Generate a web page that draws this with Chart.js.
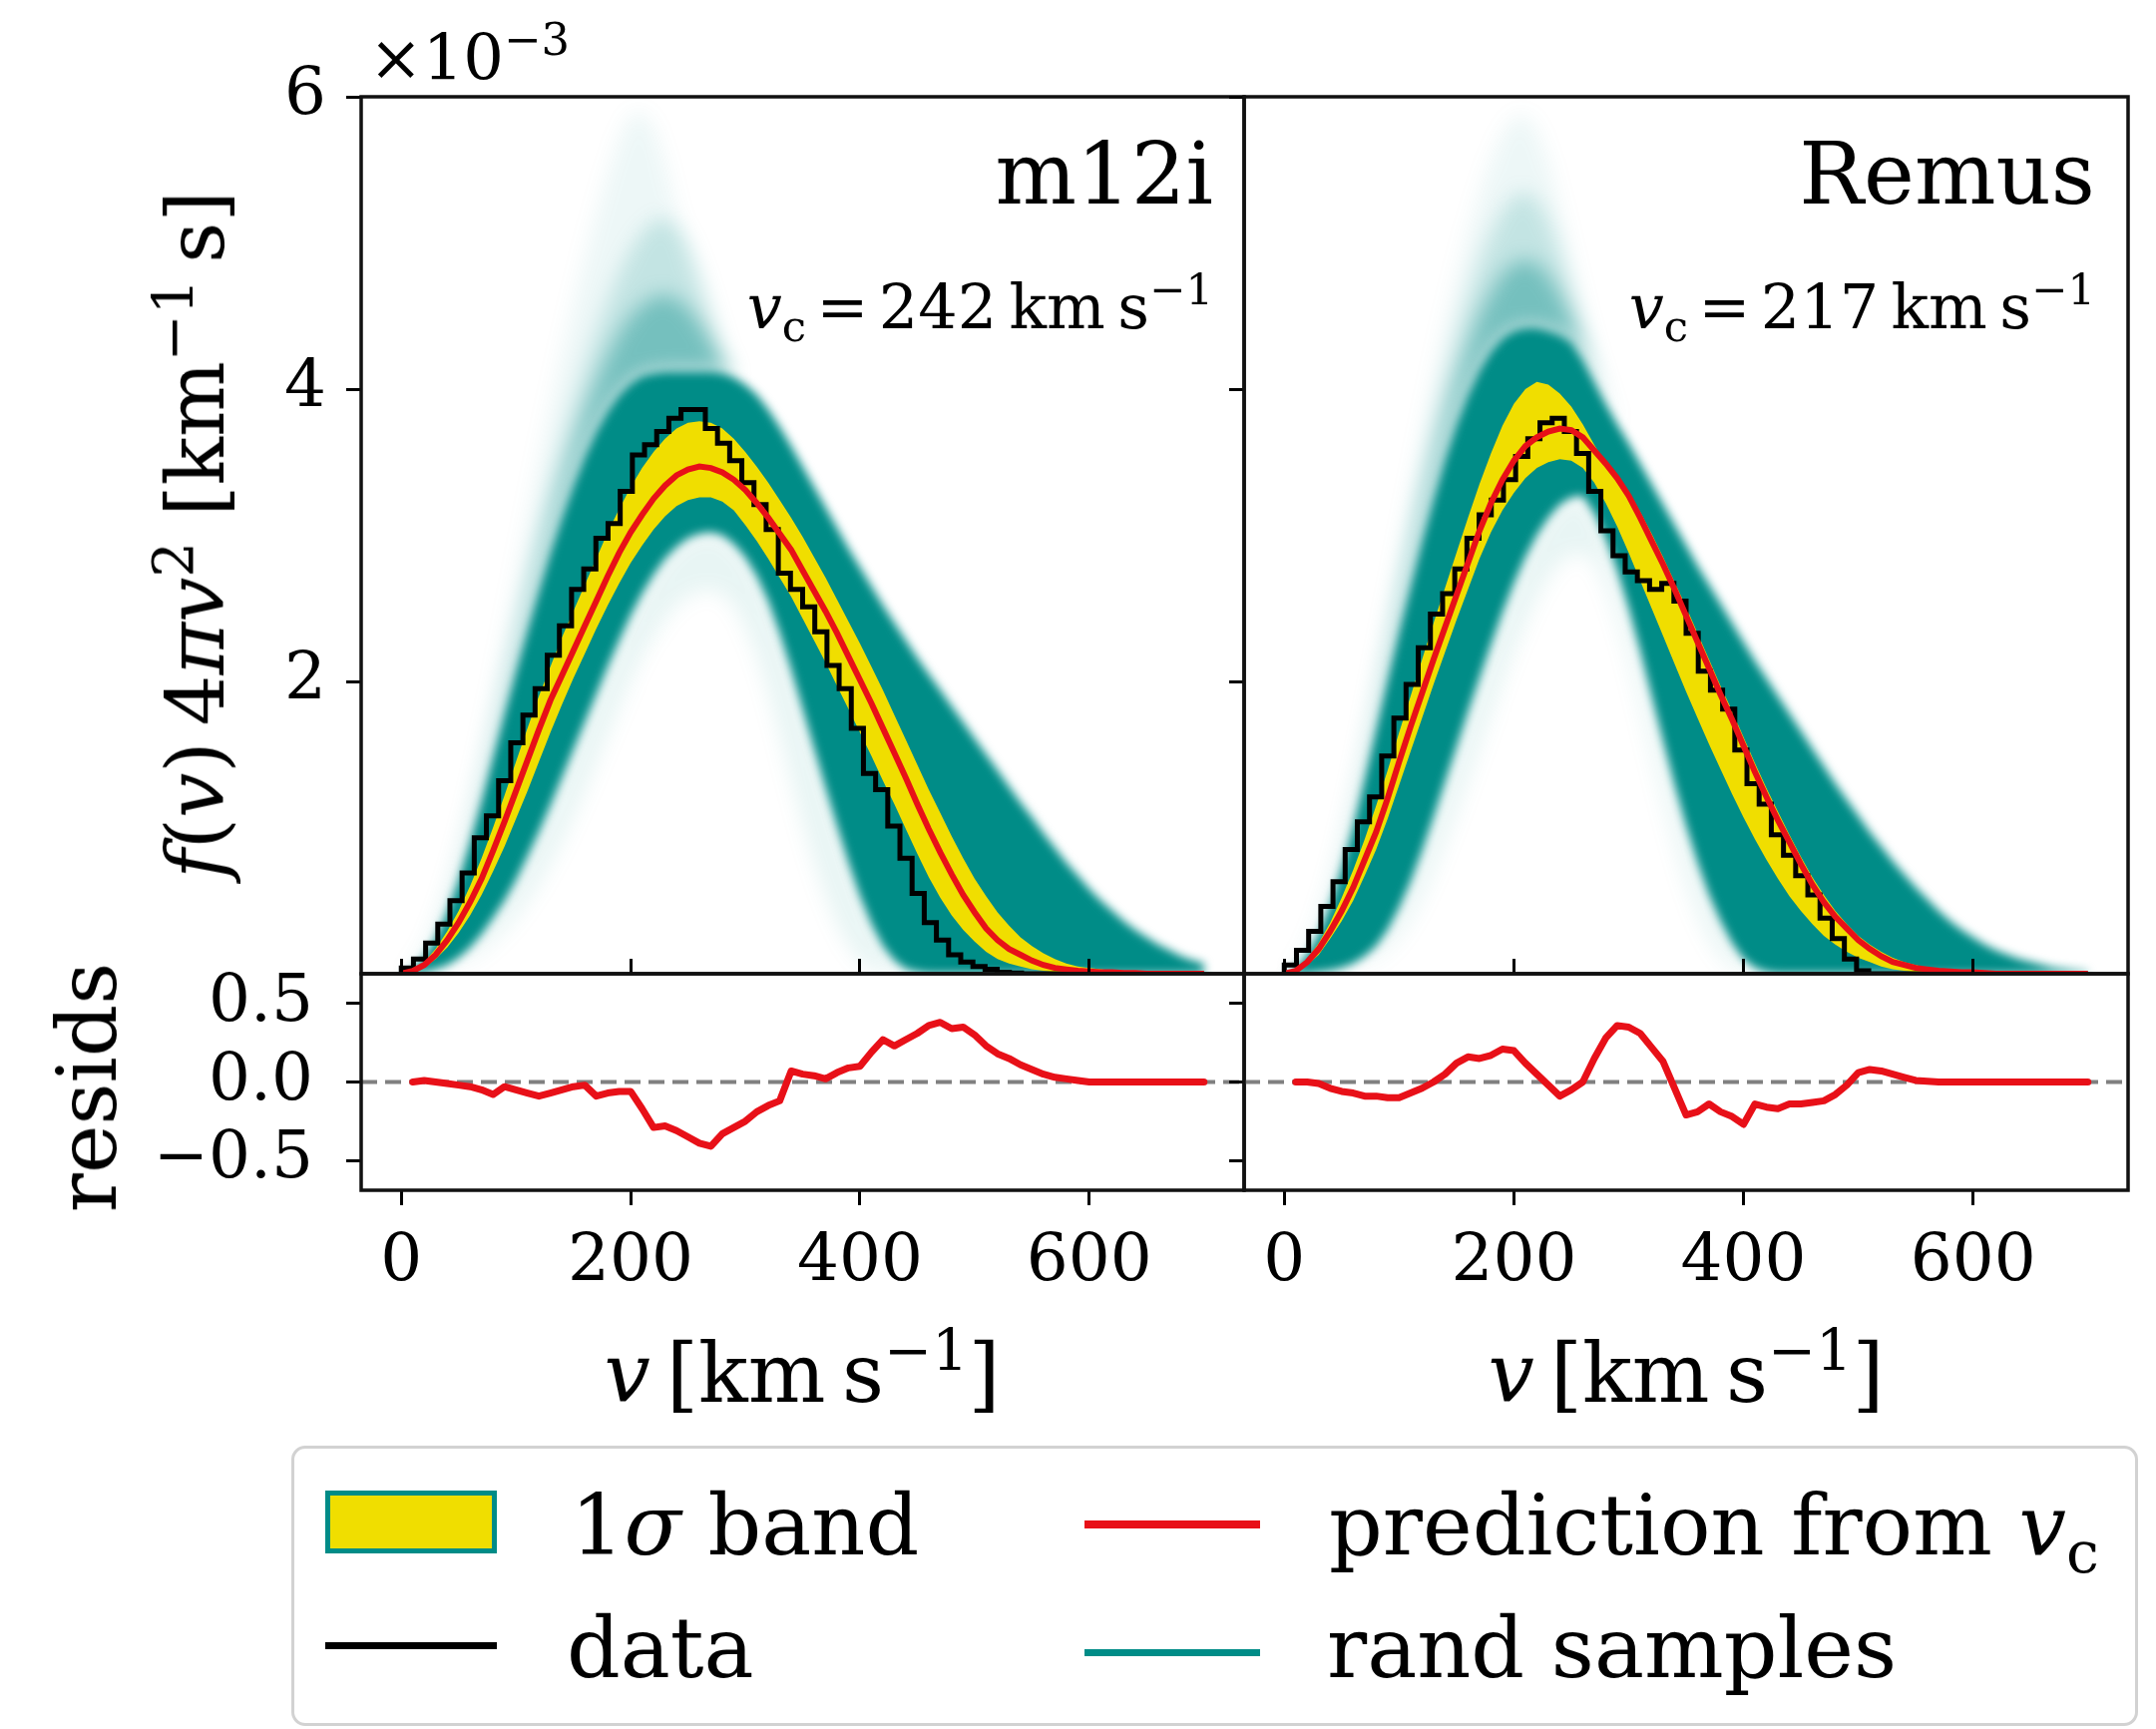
<!DOCTYPE html>
<html>
<head>
<meta charset="utf-8">
<script src="https://cdn.jsdelivr.net/npm/chart.js@4.4.1/dist/chart.umd.min.js"></script>
<style>
  body { margin: 0; background: #fff; }
  #fig { position: relative; width: 2161px; height: 1733px; overflow: hidden; font-family: "DejaVu Serif", serif; color: #000; }
  canvas { position: absolute; left: 0; top: 0; }
  .clip { position: absolute; overflow: hidden; }
  .soft canvas { filter: blur(10px); }
  .dense canvas { filter: blur(5px); }
  .txt { position: absolute; line-height: 1; white-space: nowrap; }
  .sup { font-size: 0.7em; position: relative; top: -0.55em; }
  .sub { font-size: 0.7em; position: relative; top: 0.3em; }
  .rot { transform: translate(-50%, -50%) rotate(-90deg); }
  .ctr { transform: translateX(-50%); }
  #legend { position: absolute; left: 292px; top: 1449px; width: 1851px; height: 281px; box-sizing: border-box;
            border: 3px solid #d2d2d2; border-radius: 14px; background: #fff; }
  .handle { position: absolute; box-sizing: border-box; }
</style>
</head>
<body>
<div id="fig">
  <div class="clip soft" style="left:362px; top:97px; width:885px; height:879px;">
    <canvas id="haloLeft" width="2161" height="1733" style="left:-362px; top:-97px;"></canvas>
  </div>
  <div class="clip soft" style="left:1247px; top:97px; width:886px; height:879px;">
    <canvas id="haloRight" width="2161" height="1733" style="left:-1247px; top:-97px;"></canvas>
  </div>
  <div class="clip dense" style="left:362px; top:97px; width:885px; height:879px;">
    <canvas id="sampLeft" width="2161" height="1733" style="left:-362px; top:-97px;"></canvas>
  </div>
  <div class="clip dense" style="left:1247px; top:97px; width:886px; height:879px;">
    <canvas id="sampRight" width="2161" height="1733" style="left:-1247px; top:-97px;"></canvas>
  </div>
  <canvas id="mainLeft" width="2161" height="1733"></canvas>
  <canvas id="mainRight" width="2161" height="1733"></canvas>
  <canvas id="residLeft" width="2161" height="1733"></canvas>
  <canvas id="residRight" width="2161" height="1733"></canvas>

  <div class="txt" style="left:370px; top:26px; font-size:64px;">×10<span class="sup">−3</span></div>
  <div class="txt" style="right:945px; top:131px; font-size:86px;">m12i</div>
  <div class="txt" style="right:61px; top:131px; font-size:86px;">Remus</div>
  <div class="txt" style="right:945px; top:277px; font-size:62px;"><i>v</i><span class="sub">c</span>&#8198;=&#8198;242&#8201;km&#8201;s<span class="sup">−1</span></div>
  <div class="txt" style="right:61px; top:277px; font-size:62px;"><i>v</i><span class="sub">c</span>&#8198;=&#8198;217&#8201;km&#8201;s<span class="sup">−1</span></div>

  <div class="txt ctr" style="left:804px; top:1336px; font-size:82px;"><i>v</i>&#8201;[km&#8201;s<span class="sup">−1</span>]</div>
  <div class="txt ctr" style="left:1690px; top:1336px; font-size:82px;"><i>v</i>&#8201;[km&#8201;s<span class="sup">−1</span>]</div>
  <div class="txt rot" style="left:88px; top:1090px; font-size:82px;">resids</div>
  <div class="txt rot" style="left:197px; top:536px; font-size:80px;"><i>f</i>(<i>v</i>)&#8201;4<i>πv</i><span class="sup">2</span> [km<span class="sup">−1</span>&#8201;s]</div>

  <div id="legend"></div>
  <div class="handle" style="left:326px; top:1494px; width:172px; height:63px; background:rgb(240,222,0); border:5px solid rgb(0,140,135);"></div>
  <div class="txt" style="left:572px; top:1487px; font-size:84px;">1<i>σ</i> band</div>
  <div class="handle" style="left:1087px; top:1524px; width:176px; height:8px; background:rgb(232,16,24);"></div>
  <div class="txt" style="left:1332px; top:1487px; font-size:84px;">prediction from <i>v</i><span class="sub">c</span></div>
  <div class="handle" style="left:326px; top:1646px; width:172px; height:7px; background:#000;"></div>
  <div class="txt" style="left:568px; top:1610px; font-size:84px;">data</div>
  <div class="handle" style="left:1087px; top:1653px; width:176px; height:7px; background:rgb(0,140,135);"></div>
  <div class="txt" style="left:1330px; top:1610px; font-size:84px;">rand samples</div>
</div>

<script>
// speed grid (km/s) for the smooth curves
const vGrid = [0, 10, 20, 30, 40, 50, 60, 70, 80, 90, 100, 110, 120, 130, 140, 150, 160, 170, 180, 190,
  200, 210, 220, 230, 240, 250, 260, 270, 280, 290, 300, 310, 320, 330, 340, 350, 360, 370, 380, 390,
  400, 410, 420, 430, 440, 450, 460, 470, 480, 490, 500, 510, 520, 530, 540, 550, 560, 570, 580, 590,
  600, 610, 620, 630, 640, 650, 660, 670, 680, 690, 700];
const residGrid = vGrid.slice(1);

const xTicks = [0, 200, 400, 600];
const yTicks = [2, 4, 6];
const residTicks = [-0.5, 0, 0.5];

// ---- m12i (units of 1e-3 km^-1 s) ----
const m12iPred = [0.00, 0.02, 0.06, 0.13, 0.23, 0.35, 0.49, 0.65, 0.84, 1.04,
  1.25, 1.46, 1.67, 1.87, 2.04, 2.21, 2.38, 2.55, 2.72, 2.88,
  3.02, 3.14, 3.25, 3.34, 3.41, 3.45, 3.47, 3.46, 3.43, 3.38,
  3.31, 3.22, 3.12, 3.01, 2.90, 2.76, 2.62, 2.48, 2.33, 2.17,
  2.01, 1.85, 1.68, 1.51, 1.34, 1.16, 0.99, 0.83, 0.68, 0.54,
  0.42, 0.31, 0.23, 0.17, 0.13, 0.09, 0.06, 0.04, 0.03, 0.02,
  0.015, 0.01, 0.01, 0.005, 0.005, 0, 0, 0, 0, 0, 0];
const m12iBandHi = [0.00, 0.03, 0.08, 0.17, 0.29, 0.43, 0.60, 0.79, 1.00, 1.22,
  1.45, 1.68, 1.90, 2.10, 2.30, 2.48, 2.66, 2.84, 3.02, 3.18,
  3.33, 3.46, 3.57, 3.66, 3.73, 3.77, 3.78, 3.77, 3.73, 3.66,
  3.57, 3.47, 3.36, 3.24, 3.12, 2.99, 2.85, 2.71, 2.56, 2.41,
  2.26, 2.10, 1.94, 1.77, 1.60, 1.43, 1.26, 1.10, 0.94, 0.79,
  0.65, 0.53, 0.42, 0.33, 0.25, 0.19, 0.14, 0.10, 0.07, 0.05,
  0.04, 0.03, 0.02, 0.01, 0.01, 0.005, 0, 0, 0, 0, 0];
const m12iBandLo = [0.00, 0.01, 0.04, 0.10, 0.18, 0.28, 0.40, 0.54, 0.70, 0.87,
  1.06, 1.25, 1.45, 1.65, 1.84, 2.02, 2.19, 2.36, 2.52, 2.67,
  2.81, 2.93, 3.04, 3.13, 3.20, 3.24, 3.26, 3.26, 3.23, 3.17,
  3.07, 2.96, 2.84, 2.71, 2.58, 2.43, 2.28, 2.13, 1.97, 1.81,
  1.65, 1.49, 1.32, 1.16, 0.99, 0.82, 0.66, 0.52, 0.40, 0.30,
  0.22, 0.15, 0.10, 0.07, 0.05, 0.03, 0.02, 0.01, 0.005, 0,
  0, 0, 0, 0, 0, 0, 0, 0, 0, 0, 0];
const m12iSampHi = [0.00, 0.03, 0.11, 0.24, 0.42, 0.64, 0.90, 1.18, 1.48, 1.78,
  2.07, 2.35, 2.62, 2.88, 3.12, 3.34, 3.54, 3.71, 3.85, 3.96,
  4.04, 4.09, 4.11, 4.12, 4.12, 4.12, 4.12, 4.12, 4.11, 4.08,
  4.03, 3.96, 3.86, 3.74, 3.61, 3.47, 3.33, 3.19, 3.05, 2.91,
  2.78, 2.65, 2.52, 2.40, 2.28, 2.16, 2.05, 1.94, 1.83, 1.72,
  1.61, 1.50, 1.39, 1.28, 1.17, 1.07, 0.96, 0.86, 0.76, 0.67,
  0.58, 0.50, 0.43, 0.36, 0.30, 0.25, 0.20, 0.16, 0.12, 0.09, 0.07];
const m12iSampLo = [0.00, 0.00, 0.01, 0.03, 0.06, 0.11, 0.18, 0.27, 0.38, 0.50,
  0.64, 0.80, 0.97, 1.15, 1.34, 1.53, 1.72, 1.91, 2.10, 2.28,
  2.45, 2.60, 2.73, 2.84, 2.92, 2.98, 3.01, 3.02, 3.00, 2.94,
  2.85, 2.72, 2.55, 2.33, 2.08, 1.81, 1.54, 1.27, 1.01, 0.76,
  0.53, 0.34, 0.19, 0.09, 0.03, 0.01, 0, 0, 0, 0,
  0, 0, 0, 0, 0, 0, 0, 0, 0, 0,
  0, 0, 0, 0, 0, 0, 0, 0, 0, 0, 0];
// faint tails of the sample curves: above the dense band and inside its hollow
const m12iHaloMid = [0.00, 0.035, 0.12, 0.26, 0.45, 0.68, 0.95, 1.25, 1.56, 1.88,
  2.20, 2.51, 2.81, 3.10, 3.37, 3.62, 3.85, 4.05, 4.23, 4.38,
  4.50, 4.58, 4.63, 4.65, 4.62, 4.56, 4.46, 4.34, 4.20, 4.08,
  4.03, 3.96, 3.86, 3.74, 3.61, 3.47, 3.33, 3.19, 3.05, 2.91,
  2.78, 2.65, 2.52, 2.40, 2.28, 2.16, 2.05, 1.94, 1.83, 1.72,
  1.61, 1.50, 1.39, 1.28, 1.17, 1.07, 0.96, 0.86, 0.76, 0.67,
  0.58, 0.50, 0.43, 0.36, 0.30, 0.25, 0.20, 0.16, 0.12, 0.09, 0.07];
const m12iHaloA = [0.00, 0.04, 0.13, 0.28, 0.48, 0.72, 1.00, 1.31, 1.64, 1.98,
  2.32, 2.66, 2.99, 3.31, 3.61, 3.89, 4.15, 4.39, 4.60, 4.79,
  4.95, 5.07, 5.15, 5.17, 5.12, 5.00, 4.80, 4.55, 4.28, 4.08,
  4.03, 3.96, 3.86, 3.74, 3.61, 3.47, 3.33, 3.19, 3.05, 2.91,
  2.78, 2.65, 2.52, 2.40, 2.28, 2.16, 2.05, 1.94, 1.83, 1.72,
  1.61, 1.50, 1.39, 1.28, 1.17, 1.07, 0.96, 0.86, 0.76, 0.67,
  0.58, 0.50, 0.43, 0.36, 0.30, 0.25, 0.20, 0.16, 0.12, 0.09, 0.07];
const m12iHaloB = [0.00, 0.05, 0.16, 0.33, 0.56, 0.84, 1.16, 1.52, 1.90, 2.30,
  2.70, 3.10, 3.50, 3.88, 4.24, 4.58, 4.90, 5.20, 5.48, 5.72,
  5.88, 5.90, 5.80, 5.55, 5.22, 4.85, 4.50, 4.25, 4.11, 4.08,
  4.03, 3.96, 3.86, 3.74, 3.61, 3.47, 3.33, 3.19, 3.05, 2.91,
  2.78, 2.65, 2.52, 2.40, 2.28, 2.16, 2.05, 1.94, 1.83, 1.72,
  1.61, 1.50, 1.39, 1.28, 1.17, 1.07, 0.96, 0.86, 0.76, 0.67,
  0.58, 0.50, 0.43, 0.36, 0.30, 0.25, 0.20, 0.16, 0.12, 0.09, 0.07];
const m12iHole = [0.00, 0.00, 0.005, 0.015, 0.03, 0.06, 0.10, 0.15, 0.22, 0.30,
  0.39, 0.50, 0.62, 0.76, 0.91, 1.08, 1.26, 1.45, 1.64, 1.83,
  2.01, 2.17, 2.31, 2.43, 2.52, 2.58, 2.62, 2.63, 2.60, 2.52,
  2.38, 2.18, 1.93, 1.64, 1.33, 1.03, 0.76, 0.53, 0.34, 0.19,
  0.09, 0.03, 0.01, 0, 0, 0, 0, 0, 0, 0,
  0, 0, 0, 0, 0, 0, 0, 0, 0, 0,
  0, 0, 0, 0, 0, 0, 0, 0, 0, 0, 0];
// histogram of the simulated speeds, 66 bins over 0-700 km/s
const m12iData = [0.01, 0.04, 0.10, 0.21, 0.34, 0.50, 0.69, 0.93, 1.08, 1.32,
  1.58, 1.77, 1.95, 2.18, 2.38, 2.63, 2.77, 2.98, 3.08, 3.30,
  3.55, 3.62, 3.71, 3.80, 3.86, 3.86, 3.73, 3.63, 3.51, 3.36,
  3.21, 3.04, 2.74, 2.63, 2.51, 2.34, 2.11, 1.95, 1.68, 1.37,
  1.26, 1.01, 0.79, 0.55, 0.35, 0.23, 0.13, 0.08, 0.05, 0.03,
  0.01, 0.005, 0, 0, 0, 0, 0, 0, 0, 0, 0, 0, 0, 0, 0, 0];
const m12iResid = [0.00, 0.01, 0.00, -0.01, -0.02, -0.03, -0.05, -0.08, -0.03, -0.05,
  -0.07, -0.09, -0.07, -0.05, -0.03, -0.02, -0.09, -0.07, -0.06, -0.06,
  -0.17, -0.29, -0.28, -0.31, -0.35, -0.39, -0.41, -0.33, -0.29, -0.25,
  -0.19, -0.15, -0.12, 0.07, 0.05, 0.04, 0.02, 0.06, 0.09, 0.10,
  0.19, 0.27, 0.23, 0.27, 0.31, 0.36, 0.38, 0.34, 0.35, 0.30,
  0.23, 0.18, 0.15, 0.11, 0.08, 0.05, 0.03, 0.02, 0.01, 0.00,
  0, 0, 0, 0, 0, 0, 0, 0, 0, 0];

// ---- Remus ----
const remusPred = [0.00, 0.02, 0.08, 0.17, 0.29, 0.43, 0.59, 0.78, 0.97, 1.20,
  1.45, 1.69, 1.92, 2.15, 2.37, 2.59, 2.81, 3.03, 3.22, 3.38,
  3.51, 3.61, 3.67, 3.71, 3.73, 3.72, 3.67, 3.58, 3.49, 3.39,
  3.27, 3.12, 2.96, 2.80, 2.63, 2.45, 2.27, 2.09, 1.91, 1.74,
  1.56, 1.38, 1.21, 1.05, 0.90, 0.75, 0.61, 0.49, 0.39, 0.31,
  0.23, 0.17, 0.12, 0.08, 0.06, 0.04, 0.03, 0.02, 0.015, 0.01,
  0.01, 0.005, 0, 0, 0, 0, 0, 0, 0, 0, 0];
const remusBandHi = [0.00, 0.03, 0.10, 0.21, 0.35, 0.52, 0.71, 0.92, 1.15, 1.39,
  1.65, 1.90, 2.15, 2.40, 2.64, 2.88, 3.12, 3.35, 3.56, 3.75,
  3.90, 4.00, 4.05, 4.03, 3.97, 3.88, 3.76, 3.62, 3.49, 3.41,
  3.30, 3.16, 3.01, 2.85, 2.68, 2.51, 2.33, 2.15, 1.97, 1.80,
  1.62, 1.44, 1.27, 1.11, 0.95, 0.80, 0.66, 0.54, 0.43, 0.34,
  0.26, 0.20, 0.15, 0.11, 0.08, 0.06, 0.04, 0.03, 0.02, 0.015,
  0.01, 0.005, 0, 0, 0, 0, 0, 0, 0, 0, 0];
const remusBandLo = [0.00, 0.01, 0.06, 0.13, 0.24, 0.36, 0.50, 0.67, 0.85, 1.06,
  1.29, 1.52, 1.75, 1.98, 2.20, 2.42, 2.63, 2.84, 3.02, 3.17,
  3.29, 3.39, 3.46, 3.50, 3.52, 3.51, 3.46, 3.36, 3.22, 3.06,
  2.88, 2.69, 2.50, 2.31, 2.12, 1.93, 1.75, 1.57, 1.40, 1.23,
  1.07, 0.92, 0.78, 0.65, 0.53, 0.43, 0.34, 0.26, 0.20, 0.15,
  0.11, 0.08, 0.05, 0.03, 0.02, 0.01, 0, 0, 0, 0,
  0, 0, 0, 0, 0, 0, 0, 0, 0, 0, 0];
const remusSampHi = [0.00, 0.04, 0.13, 0.27, 0.47, 0.72, 1.00, 1.33, 1.67, 2.01,
  2.34, 2.65, 2.96, 3.25, 3.52, 3.76, 3.96, 4.13, 4.26, 4.35,
  4.40, 4.42, 4.42, 4.40, 4.37, 4.32, 4.20, 4.05, 3.90, 3.76,
  3.63, 3.49, 3.35, 3.21, 3.07, 2.93, 2.79, 2.66, 2.53, 2.40,
  2.27, 2.14, 2.02, 1.90, 1.78, 1.66, 1.54, 1.42, 1.30, 1.19,
  1.08, 0.97, 0.87, 0.77, 0.68, 0.59, 0.51, 0.43, 0.36, 0.30,
  0.25, 0.20, 0.16, 0.13, 0.10, 0.08, 0.06, 0.04, 0.03, 0.02, 0.015];
const remusSampLo = [0.00, 0.00, 0.00, 0.01, 0.02, 0.04, 0.07, 0.12, 0.19, 0.30,
  0.45, 0.63, 0.84, 1.07, 1.31, 1.55, 1.79, 2.02, 2.25, 2.47,
  2.67, 2.85, 3.00, 3.12, 3.21, 3.26, 3.27, 3.15, 2.98, 2.76,
  2.50, 2.21, 1.90, 1.59, 1.29, 1.01, 0.76, 0.54, 0.36, 0.21,
  0.10, 0.04, 0.01, 0, 0, 0, 0, 0, 0, 0,
  0, 0, 0, 0, 0, 0, 0, 0, 0, 0,
  0, 0, 0, 0, 0, 0, 0, 0, 0, 0, 0];
const remusHaloMid = [0.00, 0.045, 0.14, 0.29, 0.50, 0.76, 1.06, 1.40, 1.76, 2.13,
  2.49, 2.83, 3.17, 3.49, 3.79, 4.06, 4.29, 4.50, 4.66, 4.79,
  4.86, 4.89, 4.86, 4.78, 4.65, 4.49, 4.29, 4.09, 3.91, 3.76,
  3.63, 3.49, 3.35, 3.21, 3.07, 2.93, 2.79, 2.66, 2.53, 2.40,
  2.27, 2.14, 2.02, 1.90, 1.78, 1.66, 1.54, 1.42, 1.30, 1.19,
  1.08, 0.97, 0.87, 0.77, 0.68, 0.59, 0.51, 0.43, 0.36, 0.30,
  0.25, 0.20, 0.16, 0.13, 0.10, 0.08, 0.06, 0.04, 0.03, 0.02, 0.015];
const remusHaloA = [0.00, 0.05, 0.15, 0.31, 0.53, 0.80, 1.11, 1.47, 1.85, 2.24,
  2.63, 3.01, 3.38, 3.73, 4.05, 4.35, 4.62, 4.86, 5.06, 5.22,
  5.32, 5.35, 5.30, 5.15, 4.92, 4.65, 4.38, 4.12, 3.92, 3.76,
  3.63, 3.49, 3.35, 3.21, 3.07, 2.93, 2.79, 2.66, 2.53, 2.40,
  2.27, 2.14, 2.02, 1.90, 1.78, 1.66, 1.54, 1.42, 1.30, 1.19,
  1.08, 0.97, 0.87, 0.77, 0.68, 0.59, 0.51, 0.43, 0.36, 0.30,
  0.25, 0.20, 0.16, 0.13, 0.10, 0.08, 0.06, 0.04, 0.03, 0.02, 0.015];
const remusHaloB = [0.00, 0.05, 0.17, 0.35, 0.60, 0.90, 1.25, 1.64, 2.05, 2.47,
  2.89, 3.30, 3.70, 4.08, 4.44, 4.77, 5.07, 5.34, 5.57, 5.75,
  5.86, 5.88, 5.78, 5.56, 5.25, 4.90, 4.56, 4.25, 3.98, 3.78,
  3.63, 3.49, 3.35, 3.21, 3.07, 2.93, 2.79, 2.66, 2.53, 2.40,
  2.27, 2.14, 2.02, 1.90, 1.78, 1.66, 1.54, 1.42, 1.30, 1.19,
  1.08, 0.97, 0.87, 0.77, 0.68, 0.59, 0.51, 0.43, 0.36, 0.30,
  0.25, 0.20, 0.16, 0.13, 0.10, 0.08, 0.06, 0.04, 0.03, 0.02, 0.015];
const remusHole = [0.00, 0.00, 0.00, 0.005, 0.01, 0.02, 0.04, 0.07, 0.11, 0.17,
  0.26, 0.38, 0.53, 0.71, 0.91, 1.12, 1.34, 1.56, 1.78, 2.00,
  2.21, 2.40, 2.57, 2.71, 2.81, 2.87, 2.88, 2.82, 2.66, 2.44,
  2.16, 1.85, 1.52, 1.20, 0.90, 0.63, 0.41, 0.24, 0.12, 0.05,
  0.01, 0, 0, 0, 0, 0, 0, 0, 0, 0,
  0, 0, 0, 0, 0, 0, 0, 0, 0, 0,
  0, 0, 0, 0, 0, 0, 0, 0, 0, 0, 0];
const remusData = [0.01, 0.06, 0.16, 0.29, 0.46, 0.63, 0.85, 1.04, 1.21, 1.49,
  1.75, 1.98, 2.23, 2.46, 2.60, 2.77, 2.98, 3.14, 3.24, 3.38,
  3.54, 3.66, 3.77, 3.80, 3.71, 3.56, 3.30, 3.03, 2.86, 2.75,
  2.69, 2.63, 2.67, 2.55, 2.33, 2.07, 1.94, 1.81, 1.53, 1.30,
  1.16, 0.95, 0.81, 0.67, 0.54, 0.38, 0.24, 0.10, 0.02, 0,
  0, 0, 0, 0, 0, 0, 0, 0, 0, 0, 0, 0, 0, 0, 0, 0];
const remusResid = [0.00, 0.00, -0.01, -0.04, -0.06, -0.07, -0.09, -0.09, -0.10, -0.10,
  -0.07, -0.04, 0.00, 0.05, 0.12, 0.16, 0.15, 0.17, 0.21, 0.20,
  0.12, 0.05, -0.02, -0.09, -0.05, 0.00, 0.15, 0.28, 0.36, 0.35,
  0.31, 0.22, 0.13, -0.04, -0.21, -0.19, -0.14, -0.19, -0.22, -0.27,
  -0.14, -0.16, -0.17, -0.14, -0.14, -0.13, -0.12, -0.08, -0.02, 0.06,
  0.08, 0.07, 0.05, 0.03, 0.01, 0.005, 0, 0, 0, 0,
  0, 0, 0, 0, 0, 0, 0, 0, 0, 0];

const W = 2161;
const H = 1733;
const teal = "rgb(0,140,135)";
const gold = "rgb(240,222,0)";
const red = "rgb(232,16,24)";
const yAxisW = 240;   // room kept for y tick labels
const xAxisH = 160;   // room kept for x tick labels
const tickFont = { size: 66 };

Chart.defaults.font.family = '"DejaVu Serif", serif';
Chart.defaults.color = "#000";

const pts = (xs, ys) => xs.map((x, i) => ({ x: x, y: ys[i] }));

// step outline of the histogram, drawn through the bin edges
const binWidth = 700 / m12iData.length;
const histPts = (counts) => {
  const p = [{ x: 0, y: 0 }];
  counts.forEach((c, i) => p.push({ x: i * binWidth, y: c }));
  p.push({ x: 700, y: counts[counts.length - 1] });
  return p;
};

const frame = {
  id: "frame",
  afterDatasetsDraw(chart) {
    const a = chart.chartArea;
    const ctx = chart.ctx;
    ctx.save();
    ctx.strokeStyle = "#111";
    ctx.lineWidth = 3.5;
    ctx.strokeRect(a.left, a.top, a.right - a.left, a.bottom - a.top);
    ctx.restore();
  },
};

// padding puts the plot area exactly on box; axis boxes get fixed sizes
const baseOptions = (box, yw, xh) => ({
  responsive: false,
  animation: false,
  devicePixelRatio: 1,
  layout: { padding: { left: box.x0 - yw, right: W - box.x1, top: box.y0, bottom: H - box.y1 - xh } },
  plugins: { legend: { display: false }, tooltip: { enabled: false } },
  elements: { point: { radius: 0 }, line: { tension: 0 } },
});

const band = (data, extra) =>
  Object.assign({ data: data, borderWidth: 0, borderColor: "rgba(0,0,0,0)", pointRadius: 0 }, extra);

const hiddenScales = () => ({
  x: { type: "linear", min: -35, max: 735, display: false },
  y: { min: 0, max: 6, display: false },
});

// faint tails of the random samples (heavily softened layer)
const haloChart = (id, box, s) => {
  const opts = baseOptions(box, 0, 0);
  opts.scales = hiddenScales();
  new Chart(document.getElementById(id), {
    type: "line",
    data: {
      datasets: [
        band(pts(vGrid, s.hi), { fill: false, order: 9 }),
        band(pts(vGrid, s.haloB), { fill: 0, backgroundColor: "rgba(0,140,135,0.07)", order: 4 }),
        band(pts(vGrid, s.haloA), { fill: 0, backgroundColor: "rgba(0,140,135,0.18)", order: 3 }),
        band(pts(vGrid, s.haloMid), { fill: 0, backgroundColor: "rgba(0,140,135,0.40)", order: 2 }),
        band(pts(vGrid, s.lo), { fill: false, order: 8 }),
        band(pts(vGrid, s.hole), { fill: 4, backgroundColor: "rgba(0,140,135,0.09)", order: 1 }),
      ],
    },
    options: opts,
  });
};

// dense core of the random samples
const sampleChart = (id, box, s) => {
  const opts = baseOptions(box, 0, 0);
  opts.scales = hiddenScales();
  new Chart(document.getElementById(id), {
    type: "line",
    data: {
      datasets: [
        band(pts(vGrid, s.hi), { fill: 1, backgroundColor: teal, order: 0 }),
        band(pts(vGrid, s.lo), { fill: false, order: 1 }),
      ],
    },
    options: opts,
  });
};

const mainChart = (id, box, s, showLabels) => {
  const yw = showLabels ? yAxisW : 0;
  const opts = baseOptions(box, yw, 0);
  opts.scales = {
    x: {
      type: "linear", min: -35, max: 735,
      afterFit: (sc) => { sc.height = 0; },
      afterBuildTicks: (sc) => { sc.ticks = xTicks.map((v) => ({ value: v })); },
      ticks: { display: false },
      grid: { drawOnChartArea: false, tickLength: -15, tickWidth: 3, tickColor: "#000", z: 1 },
      border: { display: false },
    },
    y: {
      min: 0, max: 6,
      afterFit: (sc) => { sc.width = yw; },
      afterBuildTicks: (sc) => { sc.ticks = yTicks.map((v) => ({ value: v })); },
      ticks: { display: showLabels, padding: 20, font: tickFont, color: "#000" },
      grid: { drawOnChartArea: false, tickLength: 15, tickWidth: 3, tickColor: "#000" },
      border: { display: false },
    },
  };
  new Chart(document.getElementById(id), {
    type: "line",
    data: {
      datasets: [
        band(pts(vGrid, s.bandHi), { fill: 1, backgroundColor: gold, order: 2 }),
        band(pts(vGrid, s.bandLo), { fill: false, order: 3 }),
        { data: histPts(s.data), stepped: "after", borderColor: "#000", borderWidth: 5, fill: false, order: 1 },
        { data: pts(vGrid, s.pred), borderColor: red, borderWidth: 6, fill: false, order: 0 },
      ],
    },
    options: opts,
    plugins: [frame],
  });
};

const residChart = (id, box, resid, showLabels) => {
  const yw = showLabels ? yAxisW : 0;
  const opts = baseOptions(box, yw, xAxisH);
  opts.scales = {
    x: {
      type: "linear", min: -35, max: 735,
      afterFit: (sc) => { sc.height = xAxisH; },
      afterBuildTicks: (sc) => { sc.ticks = xTicks.map((v) => ({ value: v })); },
      ticks: { padding: 18, font: tickFont, color: "#000", maxRotation: 0 },
      grid: { drawOnChartArea: false, tickLength: 15, tickWidth: 3, tickColor: "#000" },
      border: { display: false },
    },
    y: {
      min: -0.69, max: 0.69,
      afterFit: (sc) => { sc.width = yw; },
      afterBuildTicks: (sc) => { sc.ticks = residTicks.map((v) => ({ value: v })); },
      ticks: {
        display: showLabels, padding: 33, font: tickFont, color: "#000",
        callback: (v) => v.toFixed(1).replace("-", "\u2212"),
      },
      grid: { drawOnChartArea: false, tickLength: 15, tickWidth: 3, tickColor: "#000" },
      border: { display: false },
    },
  };
  new Chart(document.getElementById(id), {
    type: "line",
    data: {
      datasets: [
        { data: [{ x: -35, y: 0 }, { x: 735, y: 0 }], borderColor: "#808080", borderWidth: 4, borderDash: [16, 8], fill: false, order: 1 },
        { data: pts(residGrid, resid), borderColor: red, borderWidth: 7, borderJoinStyle: "round", borderCapStyle: "round", fill: false, order: 0 },
      ],
    },
    options: opts,
    plugins: [frame],
  });
};

const leftMain = { x0: 362, x1: 1247, y0: 97, y1: 976 };
const rightMain = { x0: 1247, x1: 2133, y0: 97, y1: 976 };
const leftResid = { x0: 362, x1: 1247, y0: 976, y1: 1193 };
const rightResid = { x0: 1247, x1: 2133, y0: 976, y1: 1193 };

const m12i = {
  pred: m12iPred, bandHi: m12iBandHi, bandLo: m12iBandLo, data: m12iData,
  hi: m12iSampHi, lo: m12iSampLo, haloMid: m12iHaloMid, haloA: m12iHaloA, haloB: m12iHaloB, hole: m12iHole,
};
const remus = {
  pred: remusPred, bandHi: remusBandHi, bandLo: remusBandLo, data: remusData,
  hi: remusSampHi, lo: remusSampLo, haloMid: remusHaloMid, haloA: remusHaloA, haloB: remusHaloB, hole: remusHole,
};

haloChart("haloLeft", leftMain, m12i);
haloChart("haloRight", rightMain, remus);
sampleChart("sampLeft", leftMain, m12i);
sampleChart("sampRight", rightMain, remus);
mainChart("mainLeft", leftMain, m12i, true);
mainChart("mainRight", rightMain, remus, false);
residChart("residLeft", leftResid, m12iResid, true);
residChart("residRight", rightResid, remusResid, false);
</script>
</body>
</html>
